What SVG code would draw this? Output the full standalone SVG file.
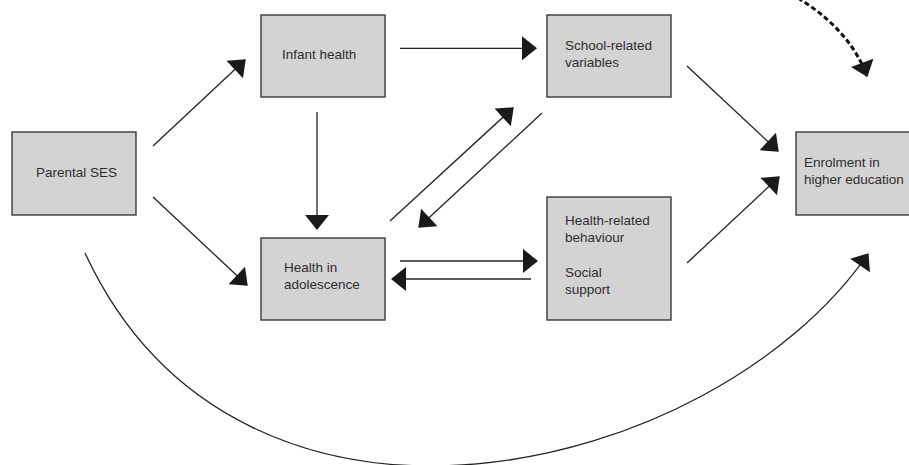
<svg xmlns="http://www.w3.org/2000/svg" width="909" height="465" viewBox="0 0 909 465">
<style>
.box{fill:#d3d3d3;stroke:#3a3a3a;stroke-width:1.4}
.lbl{font-family:"Liberation Sans",Arial,sans-serif;font-size:13.5px;fill:#2e2e2e}
.ln{fill:none;stroke:#222;stroke-width:1.3}
.dash{fill:none;stroke:#111;stroke-width:3;stroke-dasharray:5 3}
</style>
<defs>
<marker id="ah" markerUnits="userSpaceOnUse" markerWidth="16" markerHeight="24" viewBox="0 0 15 24" refX="14" refY="12" orient="auto">
<path d="M0,0 L15,12 L0,24 Z" fill="#1a1a1a"/>
</marker>
</defs>
<rect width="909" height="465" fill="#fff"/>
<g id="connectors">
<line class="ln" x1="153" y1="146" x2="245" y2="60" marker-end="url(#ah)"/>
<line class="ln" x1="153" y1="197" x2="247" y2="285" marker-end="url(#ah)"/>
<line class="ln" x1="317" y1="112" x2="317" y2="229" marker-end="url(#ah)"/>
<line class="ln" x1="400" y1="48.3" x2="536" y2="48.3" marker-end="url(#ah)"/>
<line class="ln" x1="390" y1="221" x2="513" y2="108" marker-end="url(#ah)"/>
<line class="ln" x1="542" y1="113" x2="419" y2="227" marker-end="url(#ah)"/>
<line class="ln" x1="400" y1="261" x2="537" y2="261" marker-end="url(#ah)"/>
<line class="ln" x1="531" y1="279" x2="392" y2="279" marker-end="url(#ah)"/>
<line class="ln" x1="687" y1="66" x2="778" y2="151" marker-end="url(#ah)"/>
<line class="ln" x1="687" y1="263" x2="779" y2="177" marker-end="url(#ah)"/>
<path class="dash" d="M798,-2 Q850,30 867,76" marker-end="url(#ah)"/>
<path class="ln" d="M85,253 C241,590 713,478 868,254" marker-end="url(#ah)"/>
</g>
<g id="parental-ses">
<rect class="box" x="12" y="132" width="124" height="83"/>
<text class="lbl" x="36" y="177">Parental SES</text>
</g>
<g id="infant-health">
<rect class="box" x="261" y="15" width="124" height="82"/>
<text class="lbl" x="282" y="59">Infant health</text>
</g>
<g id="health-adolescence">
<rect class="box" x="261" y="238" width="124" height="82"/>
<text class="lbl" x="284" y="272">Health in</text>
<text class="lbl" x="284" y="288.5">adolescence</text>
</g>
<g id="school-related">
<rect class="box" x="547" y="15" width="124" height="82"/>
<text class="lbl" x="565" y="50">School-related</text>
<text class="lbl" x="565" y="67">variables</text>
</g>
<g id="health-behaviour">
<rect class="box" x="547" y="197" width="124" height="123"/>
<text class="lbl" x="565" y="225">Health-related</text>
<text class="lbl" x="565" y="242">behaviour</text>
<text class="lbl" x="565" y="277">Social</text>
<text class="lbl" x="565" y="294">support</text>
</g>
<g id="enrolment">
<rect class="box" x="796" y="132" width="124" height="83"/>
<text class="lbl" x="804" y="166.5">Enrolment in</text>
<text class="lbl" x="804" y="183.5">higher education</text>
</g>
</svg>
